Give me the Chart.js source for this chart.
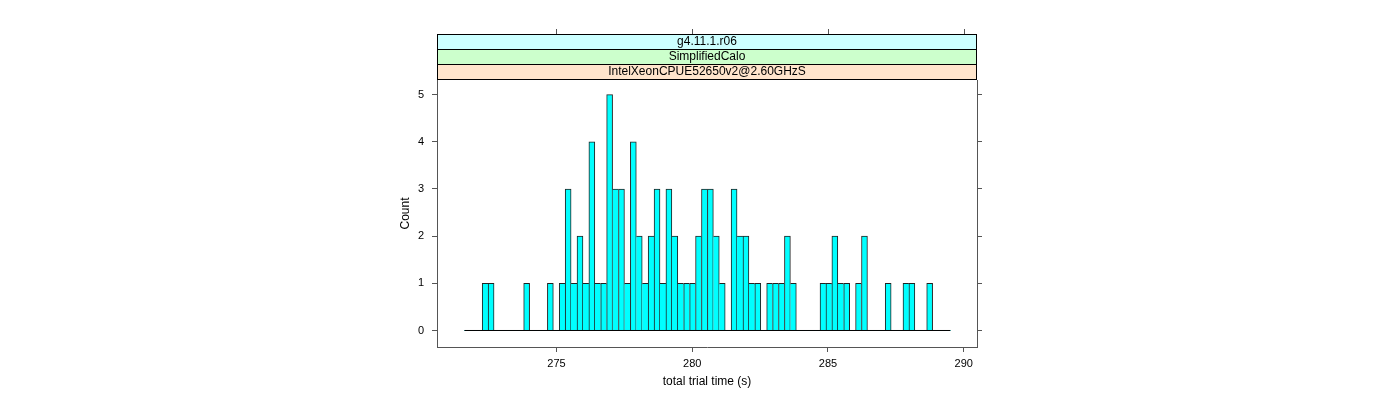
<!DOCTYPE html>
<html><head><meta charset="utf-8">
<script src="https://cdn.jsdelivr.net/npm/chart.js@4/dist/chart.umd.min.js"></script>
<style>html,body{margin:0;padding:0;background:#fff}#wrap{width:1400px;height:400px;position:relative}</style>
</head><body><div id="wrap"><canvas id="c"></canvas></div>
<script>
// ---- data ----
const binStart = 271.61;
const binWidth = 0.2183;
const counts = [0,0,0,1,1,0,0,0,0,0,
                1,0,0,0,1,0,1,3,1,2,
                1,4,1,1,5,3,3,1,4,2,
                1,2,3,1,3,2,1,1,1,2,
                3,3,2,1,0,3,2,2,1,1,
                0,1,1,1,2,1,0,0,0,0,
                1,1,2,1,1,0,1,2,0,0,
                0,1,0,0,1,1,0,0,1,0,
                0,0];
const xTickValues = [275, 280, 285, 290];
const yTickValues = [0, 1, 2, 3, 4, 5];
const stripLabels = ['IntelXeonCPUE52650v2@2.60GHzS', 'SimplifiedCalo', 'g4.11.1.r06'];
const stripColors = ['#ffe5cc', '#ccffcc', '#ccffff'];
const xTitle = 'total trial time (s)';
const yTitle = 'Count';

// ---- styles ----
const FAM = '"Liberation Sans", Arial, Helvetica, sans-serif';
const axisCol = '#555';
const xMin = 270.6, xMax = 290.49, yMin = -0.35, yMax = 5.31;

const barData = counts.map((c, k) => ({x: binStart + (k + 0.5) * binWidth, y: c}));
const binEnd = binStart + counts.length * binWidth;

function bw(ctx) {
  const k = ctx.dataIndex;
  const c = counts[k];
  if (!c) return 0;
  const prev = k > 0 ? counts[k - 1] : 0;
  const next = k < counts.length - 1 ? counts[k + 1] : 0;
  return {top: 1, left: prev <= c ? 1 : 0, right: next < c ? 1 : 0, bottom: 0};
}

const stripPlugin = {
  id: 'strips',
  afterDraw(chart) {
    const {ctx, chartArea: a, scales} = chart;
    const h = 15;
    ctx.save();
    ctx.lineWidth = 1;
    for (let i = 0; i < stripLabels.length; i++) {
      const yTop = a.top - 1 - h * (i + 1);
      ctx.fillStyle = stripColors[i];
      ctx.fillRect(a.left, yTop, a.right - a.left, h);
      ctx.strokeStyle = '#000';
      ctx.strokeRect(Math.round(a.left) + 0.5, Math.round(yTop) + 0.5, Math.round(a.right - a.left) - 1, h);
      ctx.fillStyle = '#000';
      ctx.font = '12px ' + FAM;
      ctx.textAlign = 'center';
      ctx.textBaseline = 'middle';
      ctx.fillText(stripLabels[i], (a.left + a.right) / 2, yTop + h / 2 + 0.5);
    }
    // top tick marks
    const topY = a.top - 1 - h * stripLabels.length;
    ctx.strokeStyle = axisCol;
    ctx.beginPath();
    xTickValues.forEach(v => {
      const px = Math.round(scales.x.getPixelForValue(v)) + 0.5;
      ctx.moveTo(px, topY);
      ctx.lineTo(px, topY - 5);
    });
    ctx.stroke();
    ctx.restore();
  }
};

new Chart(document.getElementById('c'), {
  type: 'bar',
  data: {
    datasets: [
      {
        type: 'line',
        data: [{x: binStart, y: 0}, {x: binEnd, y: 0}],
        borderColor: '#000', borderWidth: 1, pointRadius: 0, order: 0
      },
      {
        data: barData,
        backgroundColor: '#00ffff',
        borderColor: '#222',
        borderWidth: bw,
        borderSkipped: false,
        barPercentage: 1,
        categoryPercentage: 1,
        order: 1
      }
    ]
  },
  options: {
    responsive: true, maintainAspectRatio: false, animation: false,
    layout: {padding: {left: 377, right: 413, top: 80, bottom: 0}},
    plugins: {legend: {display: false}, tooltip: {enabled: false}},
    scales: {
      x: {
        type: 'linear', min: xMin, max: xMax, offset: false,
        afterBuildTicks: s => { s.ticks = xTickValues.map(v => ({value: v})); },
        afterFit: s => { s.height = 53; },
        grid: {display: true, offset: false, drawOnChartArea: false, drawTicks: true, tickLength: 5, color: axisCol},
        border: {display: true, color: axisCol},
        ticks: {font: {family: FAM, size: 11}, color: '#000', padding: 5, maxRotation: 0, autoSkip: false},
        title: {display: true, text: xTitle, font: {family: FAM, size: 12}, color: '#000', padding: {top: 0, bottom: 11}}
      },
      y: {
        position: 'left', min: yMin, max: yMax,
        afterBuildTicks: s => { s.ticks = yTickValues.map(v => ({value: v})); },
        afterFit: s => { s.width = 60; },
        grid: {display: true, offset: false, drawOnChartArea: false, drawTicks: true, tickLength: 5, color: axisCol},
        border: {display: true, color: axisCol},
        ticks: {font: {family: FAM, size: 11}, color: '#000', padding: 8},
        title: {display: true, text: yTitle, font: {family: FAM, size: 12}, color: '#000', padding: {top: 21, bottom: 0}}
      },
      y2: {
        position: 'right', min: yMin, max: yMax,
        afterBuildTicks: s => { s.ticks = yTickValues.map(v => ({value: v})); },
        afterFit: s => { s.width = 10; },
        grid: {display: true, offset: false, drawOnChartArea: false, drawTicks: true, tickLength: 5, color: axisCol},
        border: {display: true, color: axisCol},
        ticks: {display: false}
      }
    }
  },
  plugins: [stripPlugin]
});
</script>
</body></html>
